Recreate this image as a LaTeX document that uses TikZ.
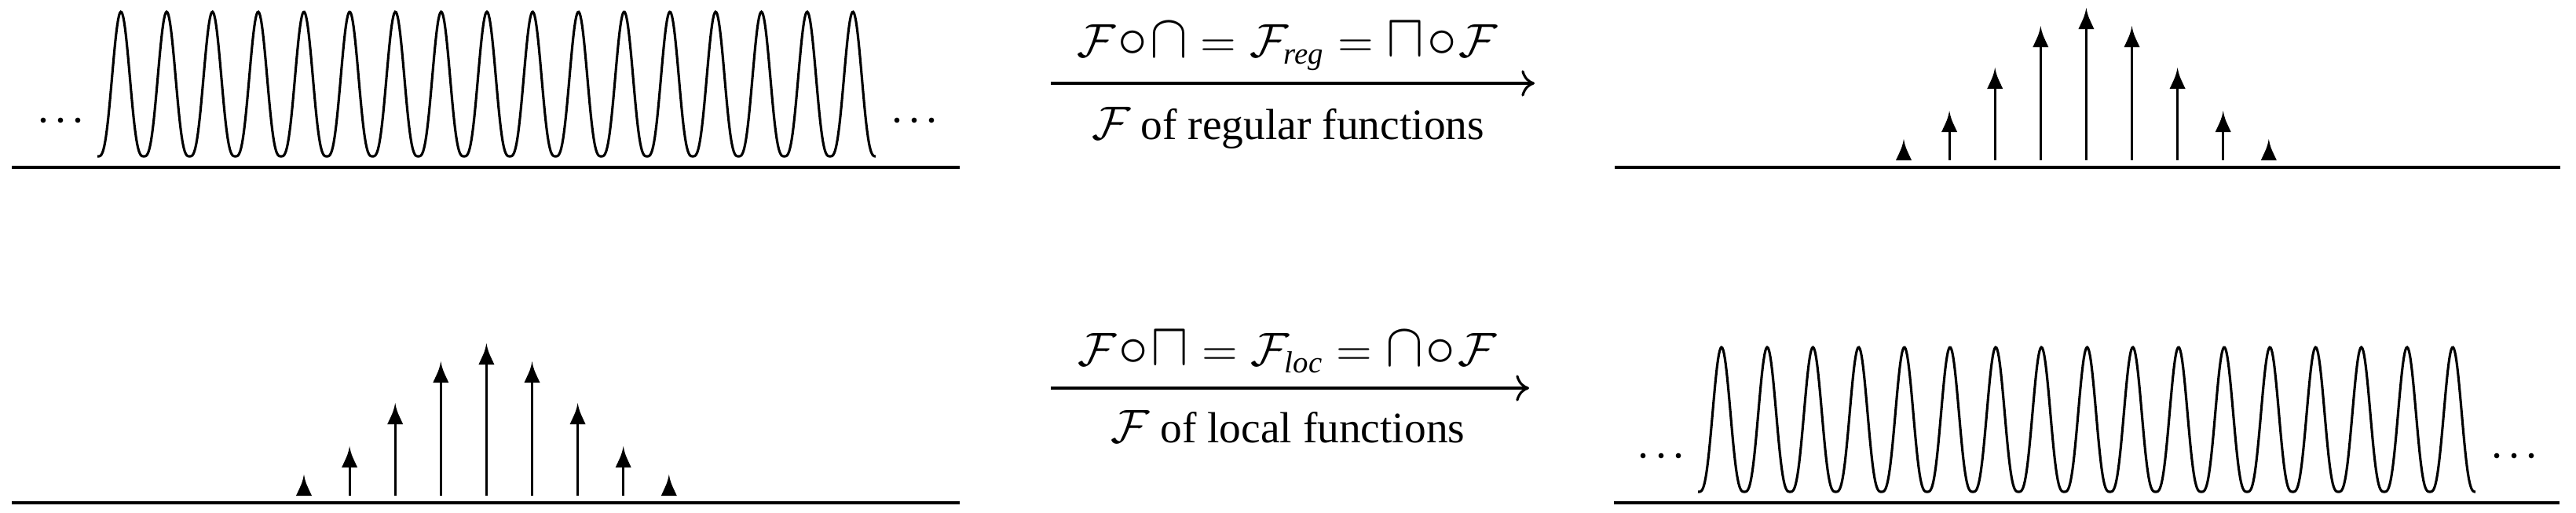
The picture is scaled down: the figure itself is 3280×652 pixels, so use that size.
\documentclass[tikz,border=0pt]{standalone}
\usepackage{fontspec}
\setmainfont{Liberation Serif}
\usepackage{amsmath,amssymb,graphicx}
\usetikzlibrary{arrows.meta}
\tikzset{
  axis/.style={line width=1pt},
  wave/.style={line width=0.75pt},
  stem/.style={line width=0.75pt},
  lbl/.style={inner sep=0pt, anchor=base, font=\fontsize{13.3}{16}\selectfont},
  maparrow/.style={line width=0.75pt, -{To[length=4pt,width=8pt]}},
  dotmark/.style={fill=black, circle, inner sep=0pt, minimum size=1.6pt}
}
\newcommand{\mySq}{\mathord{\scalebox{1.2}[1.3]{$\sqcap$}}}
\newcommand{\myCap}{\mathord{\scalebox{1.2}[1.3]{$\cap$}}}
\newcommand{\myCirc}{\mkern1mu\scalebox{1.25}{$\circ$}\mkern1mu}
\newcommand{\myHead}[2]{\fill (#1,#2) .. controls (#1+2,#2+10) .. (#1+10,#2+27) -- (#1-10,#2+27) .. controls (#1-2,#2+10) .. (#1,#2) -- cycle;}
\begin{document}
\begin{tikzpicture}[x=0.24pt,y=-0.24pt]
\useasboundingbox (0,0) rectangle (3280,652);
% ---------- top left: comb of bumps
\draw[axis] (15,213) -- (1222,213);
\draw[wave] plot[domain=124:1115,samples=900] (\x,{199-184*(0.5*(1+cos(6.1803*(\x-154))))*sqrt(0.5*(1+cos(6.1803*(\x-154))))});
\foreach \xx/\nn in {55/a,77/b,99/c} \node[dotmark] (tl\nn) at (\xx,153) {};
\foreach \xx/\nn in {1142/a,1164/b,1186/c} \node[dotmark] (tr\nn) at (\xx,153) {};
% ---------- top middle
\coordinate (m1s) at (1338,106);
\coordinate (m1e) at (1954,106);
\draw[maparrow] (m1s) -- (m1e);
\node[lbl] (t1) at (1639,72) {$\mathcal{F}\myCirc\myCap = \mathcal{F}_{\textit{reg}} = \mySq\myCirc\mathcal{F}$};
\node[lbl] (b1) at (1640,177) {$\mathcal{F}$ of regular functions};
% ---------- top right: arrows
\draw[axis] (2056,213) -- (3260,213);
\foreach \i/\t in {0/177,1/141,2/86,3/33,4/10,5/33,6/86,7/141,8/177}{
  \pgfmathsetmacro{\xx}{2424+58.1*\i}
  \ifnum\i=0 \else\ifnum\i=8 \else \draw[stem] (\xx,\t+20) -- (\xx,204);\fi\fi
  \myHead{\xx}{\t}
}
% ---------- bottom left: arrows
\draw[axis] (15,640) -- (1222,640);
\foreach \i/\t in {0/604,1/568,2/513,3/460,4/437,5/460,6/513,7/568,8/604}{
  \pgfmathsetmacro{\xx}{387+58.1*\i}
  \ifnum\i=0 \else\ifnum\i=8 \else \draw[stem] (\xx,\t+20) -- (\xx,631);\fi\fi
  \myHead{\xx}{\t}
}
% ---------- bottom middle
\coordinate (m2s) at (1338,494);
\coordinate (m2e) at (1947,494);
\draw[maparrow] (m2s) -- (m2e);
\node[lbl] (t2) at (1639,465) {$\mathcal{F}\myCirc\mySq = \mathcal{F}_{\textit{loc}} = \myCap\myCirc\mathcal{F}$};
\node[lbl] (b2) at (1640,563) {$\mathcal{F}$ of local functions};
% ---------- bottom right: comb
\draw[axis] (2055,640) -- (3259,640);
\draw[wave] plot[domain=2162:3152,samples=900] (\x,{626-184*(0.5*(1+cos(6.1866*(\x-2192))))*sqrt(0.5*(1+cos(6.1866*(\x-2192))))});
\foreach \xx/\nn in {2092/a,2115/b,2137/c} \node[dotmark] (bl\nn) at (\xx,580) {};
\foreach \xx/\nn in {3179/a,3201/b,3223/c} \node[dotmark] (br\nn) at (\xx,580) {};
\end{tikzpicture}
\end{document}
